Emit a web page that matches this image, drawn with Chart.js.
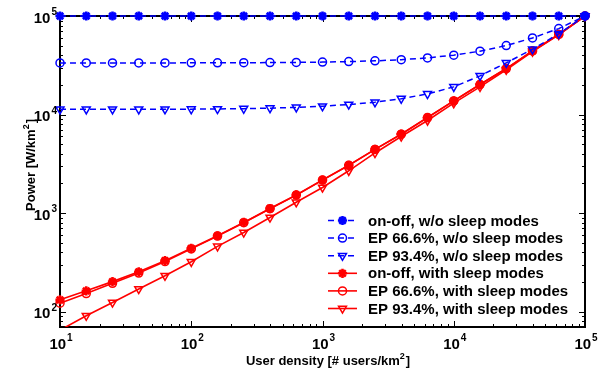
<!DOCTYPE html>
<html>
<head>
<meta charset="utf-8">
<script src="https://cdn.jsdelivr.net/npm/chart.js@4/dist/chart.umd.min.js"></script>
<style>
html,body{margin:0;padding:0;background:#fff;}
#c{display:block;}
</style>
</head>
<body>
<canvas id="c" width="599" height="372"></canvas>
<script>
// ---- data ----
const userDensity = [10, 15.85, 25.12, 39.81, 63.10, 100, 158.5, 251.2, 398.1, 631.0, 1000, 1585, 2512, 3981, 6310, 10000, 15850, 25120, 39810, 63100, 100000];
const onoffWo   = [100000,100000,100000,100000,100000,100000,100000,100000,100000,100000,100000,100000,100000,100000,100000,100000,100000,100000,100000,100000,100000];
const ep666Wo   = [33400, 33410, 33420, 33430, 33440, 33470, 33510, 33570, 33670, 33820, 34070, 34460, 35070, 36050, 37600, 40060, 43950, 50130, 59900, 74500, 100000];
const ep934Wo   = [11300, 11300, 11300, 11310, 11330, 11350, 11400, 11480, 11620, 11830, 12150, 12650, 13350, 14500, 16200, 19100, 24700, 33500, 46000, 66000, 100000];
const onoffWith = [132, 163, 202, 254, 330, 440, 590, 805, 1115, 1530, 2170, 3060, 4440, 6330, 9330, 13770, 20200, 29300, 44200, 65000, 100000];
const ep666With = [122, 153, 194, 247, 323, 434, 585, 800, 1110, 1525, 2165, 3055, 4435, 6320, 9320, 13760, 20190, 29290, 44190, 64990, 100000];
const ep934With = [65, 91, 124, 170, 232, 321, 460, 637, 904, 1290, 1820, 2690, 4080, 5990, 8700, 13050, 19100, 28500, 43500, 64300, 100000];
const seriesLabels = [
  'on-off, w/o sleep modes',
  'EP 66.6%, w/o sleep modes',
  'EP 93.4%, w/o sleep modes',
  'on-off, with sleep modes',
  'EP 66.6%, with sleep modes',
  'EP 93.4%, with sleep modes'
];
const xTickExponents = [1, 2, 3, 4, 5];
const yTickExponents = [2, 3, 4, 5];
const xTitle = 'User density [# users/km';
const yTitle = 'Power [W/km';

// ---- styling ----
const BLUE = '#0000ff', RED = '#ff0000';
const FONT = '"Liberation Sans", Arial, Helvetica, sans-serif';
const pts = (ys) => userDensity.map((x, i) => ({x: x, y: ys[i]}));
const clipBox = {left: 8, top: 8, right: 8, bottom: 0};

function ds(label, ys, color, dashed, style) {
  const o = {
    label: label,
    data: pts(ys),
    borderColor: color,
    backgroundColor: 'rgba(0,0,0,0)',
    borderWidth: dashed ? 1.5 : 1.6,
    borderDash: dashed ? [6, 4] : [],
    pointBorderColor: color,
    pointBackgroundColor: 'rgba(0,0,0,0)',
    pointBorderWidth: 1.5,
    pointRadius: 4,
    pointHoverRadius: 4,
    pointStyle: 'circle',
    pointRotation: 0,
    tension: 0,
    clip: clipBox
  };
  if (style === 'star') { o.pointStyle = 'star'; o.pointBorderWidth = 2.6; o.pointRadius = 4.6; o.pointBackgroundColor = color; }
  if (style === 'tri') { o.pointStyle = 'triangle'; o.pointRotation = 180; o.pointRadius = 4.6; }
  return o;
}

const datasets = [
  ds(seriesLabels[0], onoffWo, BLUE, true, 'star'),
  ds(seriesLabels[1], ep666Wo, BLUE, true, 'circle'),
  ds(seriesLabels[2], ep934Wo, BLUE, true, 'tri'),
  ds(seriesLabels[3], onoffWith, RED, false, 'star'),
  ds(seriesLabels[4], ep666With, RED, false, 'circle'),
  ds(seriesLabels[5], ep934With, RED, false, 'tri')
];

function minorValues(lo, hi) {
  const out = [];
  for (let e = -1; e <= 6; e++) {
    for (let m = 1; m <= 9; m++) {
      const v = m * Math.pow(10, e);
      if (v >= lo * 0.9999 && v <= hi * 1.0001) out.push({v: v, major: m === 1});
    }
  }
  return out;
}

function drawPow(ctx, base, exp, x, y, align) {
  ctx.save();
  ctx.fillStyle = '#000';
  ctx.textBaseline = 'alphabetic';
  ctx.font = 'bold 15px ' + FONT;
  const wb = ctx.measureText(base).width;
  ctx.font = 'bold 10px ' + FONT;
  const we = ctx.measureText(String(exp)).width;
  const total = wb + 1 + we;
  let left = align === 'right' ? x - total : x - total / 2;
  ctx.font = 'bold 15px ' + FONT;
  ctx.fillText(base, left, y + 5.5);
  ctx.font = 'bold 10px ' + FONT;
  ctx.fillText(String(exp), left + wb + 1, y - 2);
  ctx.restore();
}

const framePlugin = {
  id: 'frame',
  beforeDatasetsDraw(chart) {
    const {ctx, chartArea: a, scales: {x, y}} = chart;
    ctx.save();
    ctx.strokeStyle = '#000';
    ctx.lineWidth = 1;
    ctx.beginPath();
    minorValues(x.min, x.max).forEach(t => {
      const px = Math.round(x.getPixelForValue(t.v)) + 0.5;
      const len = t.major ? 6 : 3;
      ctx.moveTo(px, a.bottom); ctx.lineTo(px, a.bottom - len);
      ctx.moveTo(px, a.top); ctx.lineTo(px, a.top + len);
    });
    minorValues(y.min, y.max).forEach(t => {
      const py = Math.round(y.getPixelForValue(t.v)) + 0.5;
      const len = t.major ? 6 : 3;
      ctx.moveTo(a.left, py); ctx.lineTo(a.left + len, py);
      ctx.moveTo(a.right, py); ctx.lineTo(a.right - len, py);
    });
    ctx.stroke();
    ctx.lineWidth = 2;
    ctx.strokeRect(a.left, a.top, a.right - a.left, a.bottom - a.top);
    ctx.restore();
  },
  afterDraw(chart) {
    const {ctx, chartArea: a, scales: {x, y}} = chart;
    xTickExponents.forEach(e => {
      drawPow(ctx, '10', e, x.getPixelForValue(Math.pow(10, e)) + 1, a.bottom + 16, 'center');
    });
    yTickExponents.forEach(e => {
      drawPow(ctx, '10', e, a.left - 3, y.getPixelForValue(Math.pow(10, e)) + 1, 'right');
    });
    ctx.save();
    ctx.fillStyle = '#000';
    ctx.font = 'bold 13px ' + FONT;
    ctx.textBaseline = 'alphabetic';
    const w1 = ctx.measureText(xTitle).width;
    ctx.font = 'bold 9px ' + FONT;
    const w2 = ctx.measureText('2').width;
    ctx.font = 'bold 13px ' + FONT;
    const w3 = ctx.measureText(']').width;
    const tot = w1 + w2 + w3 + 1;
    let lx = 328 - tot / 2, by = 365;
    ctx.fillText(xTitle, lx, by);
    ctx.font = 'bold 9px ' + FONT;
    ctx.fillText('2', lx + w1, by - 6);
    ctx.font = 'bold 13px ' + FONT;
    ctx.fillText(']', lx + w1 + w2 + 1, by);
    ctx.translate(35, 165);
    ctx.rotate(-Math.PI / 2);
    const v1 = ctx.measureText(yTitle).width;
    const vt = v1 + w2 + w3 + 1;
    let vx = -vt / 2;
    ctx.fillText(yTitle, vx, 0);
    ctx.font = 'bold 9px ' + FONT;
    ctx.fillText('2', vx + v1, -6);
    ctx.font = 'bold 13px ' + FONT;
    ctx.fillText(']', vx + v1 + w2 + 1, 0);
    ctx.restore();
    ctx.save();
    const lx0 = 328, lx1 = 357, mx = 342.5, tx = 368;
    const ys0 = 220.5, dy = 17.6;
    chart.data.datasets.forEach((d, i) => {
      const yy = ys0 + i * dy;
      ctx.strokeStyle = d.borderColor;
      ctx.lineWidth = d.borderWidth;
      ctx.setLineDash(d.borderDash || []);
      ctx.beginPath();
      ctx.moveTo(lx0, yy); ctx.lineTo(lx1, yy);
      ctx.stroke();
      ctx.setLineDash([]);
      ctx.fillStyle = d.pointBackgroundColor;
      ctx.strokeStyle = d.pointBorderColor;
      ctx.lineWidth = d.pointBorderWidth;
      Chart.helpers.drawPoint(ctx, {pointStyle: d.pointStyle, rotation: d.pointRotation, radius: d.pointRadius, borderWidth: d.pointBorderWidth}, mx, yy);
      ctx.fillStyle = '#000';
      ctx.font = 'bold 15px ' + FONT;
      ctx.textBaseline = 'middle';
      ctx.fillText(d.label, tx, yy + 1);
    });
    ctx.restore();
  }
};

new Chart(document.getElementById('c'), {
  type: 'line',
  data: {datasets: datasets},
  options: {
    responsive: false,
    animation: false,
    devicePixelRatio: 1,
    layout: {padding: {left: 0, top: 16, right: 14, bottom: 0}},
    plugins: {legend: {display: false}, tooltip: {enabled: false}, title: {display: false}},
    scales: {
      x: {
        type: 'logarithmic', min: 10, max: 100000,
        ticks: {display: false}, grid: {display: false}, border: {display: false},
        afterFit: s => { s.height = 45; }
      },
      y: {
        type: 'logarithmic', min: 70, max: 100000,
        ticks: {display: false}, grid: {display: false}, border: {display: false},
        afterFit: s => { s.width = 60; }
      }
    }
  },
  plugins: [framePlugin]
});
</script>
</body>
</html>
